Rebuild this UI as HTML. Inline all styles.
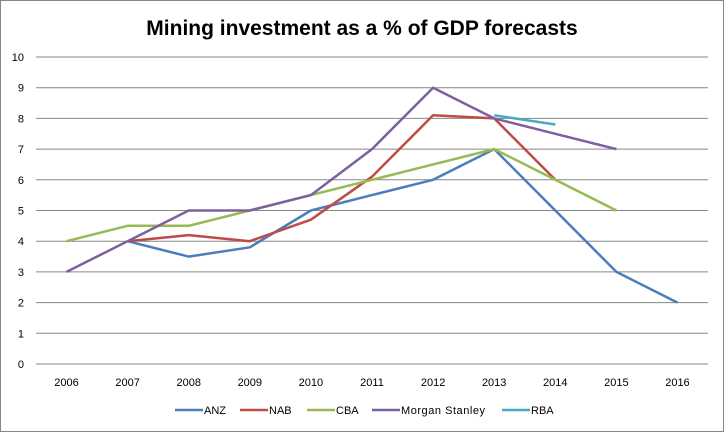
<!DOCTYPE html>
<html><head><meta charset="utf-8"><style>
body{margin:0;background:#fff;font-family:"Liberation Sans",sans-serif}
#c{position:absolute;left:0;top:0;width:725px;height:432px}
</style></head><body>
<svg id="c" width="725" height="432">
<rect x="0.5" y="0.5" width="723" height="431" fill="#fff" stroke="#868686"/>
<text x="362" y="35" text-anchor="middle" font-size="21" font-weight="bold" fill="#000">Mining investment as a % of GDP forecasts</text>
<g id="grid"></g><g id="series"></g><g id="legend"></g>
</svg>
<script>
const categories=["2006","2007","2008","2009","2010","2011","2012","2013","2014","2015","2016"];
const yTicks=[0,1,2,3,4,5,6,7,8,9,10];
const seriesNames=["ANZ","NAB","CBA","Morgan Stanley","RBA"];
const seriesColors=["#4a7ebb","#be4b48","#98b954","#7d60a0","#46aac5"];
const anz=[null,4,3.5,3.8,5,5.5,6,7,5,3,2];
const nab=[null,4,4.2,4,4.7,6.1,8.1,8,6,null,null];
const cba=[4,4.5,4.5,5,5.5,6,6.5,7,6,5,null];
const ms=[3,4,5,5,5.5,7,9,8,7.5,7,null];
const rba=[null,null,null,null,null,null,null,8.1,7.8,null,null];
const allSeries=[anz,nab,cba,ms,rba];
const NS="http://www.w3.org/2000/svg";
const L=36,R=708,T=57,B=364;
const bw=(R-L)/categories.length;
const x=i=>L+bw*(i+0.5);
const y=v=>B-(v-0)/(10-0)*(B-T);
function mk(t,a,p){const e=document.createElementNS(NS,t);for(const k in a)e.setAttribute(k,a[k]);p.appendChild(e);return e;}
const g=document.getElementById('grid');
yTicks.forEach(v=>{
  const l=mk('line',{x1:L,x2:R,y1:y(v),y2:y(v),stroke:'#868686','stroke-width':1},g);
  
  
  const t=mk('text',{x:24,y:y(v)+4,'text-anchor':'end','font-size':11,fill:'#000'},g);
  t.textContent=v;
  
  
});
categories.forEach((c,i)=>{
  const t=mk('text',{x:x(i),y:386,'text-anchor':'middle','font-size':11,fill:'#000'},g);
  t.textContent=c;
  
  
});
const s=document.getElementById('series');
allSeries.forEach((arr,k)=>{
  let d='',pen=false;
  arr.forEach((v,i)=>{if(v==null){pen=false;return;}d+=(pen?'L':'M')+x(i).toFixed(1)+' '+y(v).toFixed(1);pen=true;});
  const p=mk('path',{d:d,fill:'none',stroke:seriesColors[k],'stroke-width':2.5,'stroke-linejoin':'round'},s);
  
  
});
const lg=document.getElementById('legend');
const lx=[175,240,307,372,502];
seriesNames.forEach((n,k)=>{
  const e=mk('g',{},lg);
  
  
  mk('line',{x1:lx[k],x2:lx[k]+28,y1:410,y2:410,stroke:seriesColors[k],'stroke-width':2.5},e);
  const t=mk('text',{x:lx[k]+29,y:414,'font-size':11,fill:'#000','textLength':n==="Morgan Stanley"?84:undefined},e);
  if(n!=="Morgan Stanley")t.removeAttribute('textLength');
  t.textContent=n;
});
</script>
</body></html>
